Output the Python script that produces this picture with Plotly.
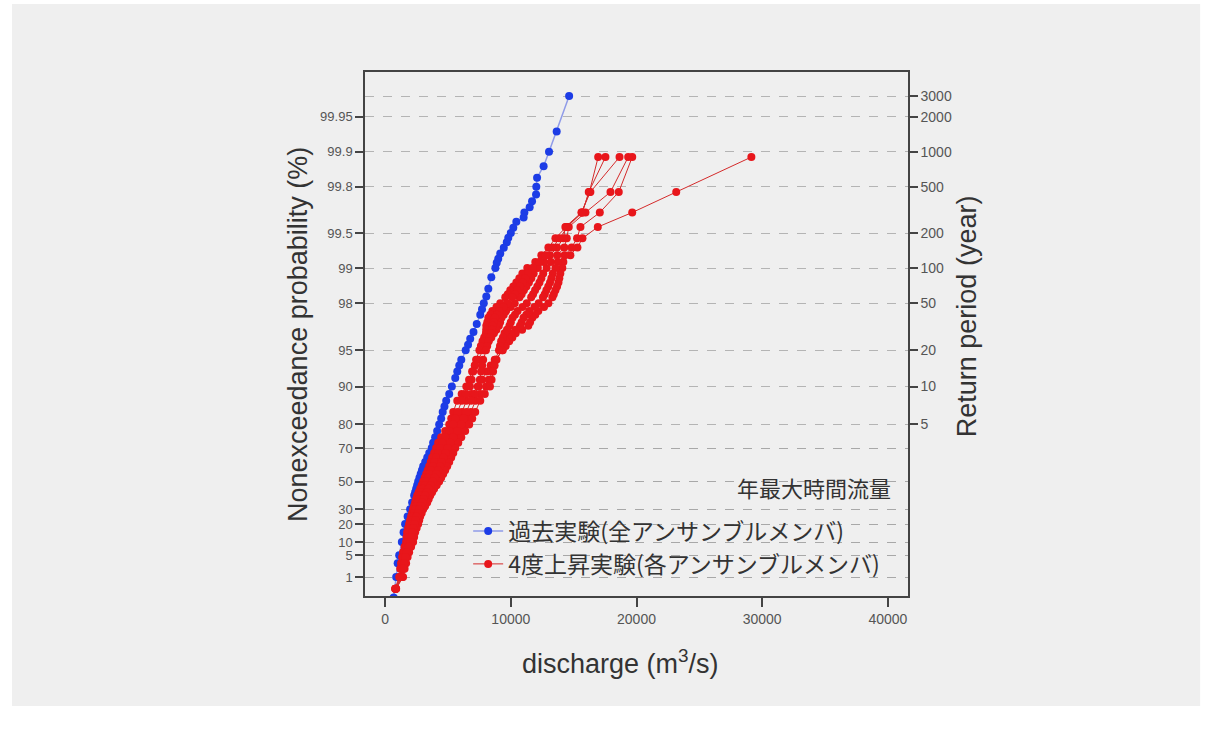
import numpy as np
import plotly.graph_objects as go

# ---------------- data ----------------
# Past experiment (all ensemble members): nonexceedance probability (%) and discharge (m3/s)
past_prob = [99.967, 99.933, 99.900, 99.867, 99.833, 99.800, 99.767, 99.733, 99.700, 99.667,
             99.633, 99.600, 99.55, 99.5, 99.45, 99.4, 99.33, 99.25, 99.17, 99.1,
             99.0, 98.8, 98.5, 98.25, 98.0, 97.75, 97.5, 97.0, 96.5, 96.0,
             95.5, 95.0, 94.0, 93.3, 92.5, 91.5, 90.0, 88.5, 87.0, 85.5,
             84.0, 82.0, 80.0, 77.5, 75.0, 72.5, 70.0, 67.5, 65.0, 62.5,
             60.0, 57.5, 55.0, 52.5, 50.0, 47.5, 45.0, 42.5, 40.0, 35.0,
             30.0, 25.0, 20.0, 15.0, 10.0, 5.0, 3.0, 1.0, 0.1]
past_q = [14640, 13650, 13040, 12610, 12090, 12030, 12010, 11690, 11500, 11080,
          11020, 10440, 10200, 10000, 9800, 9680, 9440, 9160, 9000, 8880,
          8770, 8450, 8210, 8050, 7850, 7710, 7570, 7290, 7030, 6770,
          6600, 6410, 6060, 5900, 5740, 5580, 5310, 5100, 4860, 4720,
          4580, 4460, 4300, 4140, 3980, 3820, 3710, 3510, 3350, 3190,
          3030, 2930, 2830, 2730, 2630, 2550, 2470, 2390, 2310, 2150,
          1990, 1790, 1590, 1470, 1330, 1120, 1000, 880, 680]

# +4K experiment (each ensemble member): shared probability levels (%)
fut_prob = [99.889, 99.778, 99.667, 99.556, 99.445, 99.334, 99.223, 99.112, 99.0, 98.89,
            98.78, 98.67, 98.56, 98.45, 98.33, 98.22, 98.0, 97.85, 97.67, 97.5,
            97.34, 97.1, 96.9, 96.65, 96.4, 96.1, 95.8, 95.4, 95.0, 94.0,
            93.3, 92.5, 91.2, 90.0, 88.5, 87.0, 84.0, 82.0, 80.0, 77.5,
            75.0, 72.5, 70.0, 67.5, 65.0, 62.5, 60.0, 57.5, 55.0, 52.5,
            50.0, 47.5, 45.0, 42.5, 40.0, 37.5, 35.0, 32.5, 30.0, 27.5,
            25.0, 22.5, 20.0, 17.5, 15.0, 12.5, 10.0, 8.0, 6.0, 4.5,
            3.0, 2.0, 1.0, 0.3]
fut_m1 = [29140, 23160, 19660, 16920, 15700, 15300, 14740, 14180, 14100, 13940,
          13860, 13790, 13680, 13550, 13420, 13310, 12990, 12640, 12190, 11950,
          11710, 11530, 11390, 10900, 10390, 10120, 9870, 9600, 9360, 8720,
          8400, 8080, 7720, 7370, 6880, 6470, 6120, 5930, 5740, 5420,
          5100, 4860, 4670, 4510, 4350, 4220, 4080, 3940, 3810, 3670,
          3540, 3390, 3230, 3100, 2960, 2870, 2770, 2660, 2550, 2450,
          2360, 2280, 2200, 2100, 2010, 1950, 1900, 1760, 1630, 1530,
          1430, 1340, 1240, 830]
fut_m2 = [19660, 18590, 17080, 15540, 15270, 14840, 14280, 13740, 13550, 13340,
          13230, 13120, 12980, 12830, 12700, 12560, 12220, 11880, 11460, 11230,
          11010, 10860, 10730, 10380, 10010, 9800, 9630, 9470, 9310, 8860,
          8670, 8480, 8250, 8030, 7590, 7200, 6820, 6600, 6370, 6060,
          5740, 5500, 5270, 5120, 4960, 4800, 4650, 4500, 4350, 4200,
          4050, 3860, 3680, 3530, 3380, 3270, 3160, 3010, 2870, 2760,
          2650, 2570, 2490, 2370, 2260, 2190, 2120, 1970, 1820, 1710,
          1590, 1480, 1370, 860]
fut_m3 = [19340, 17930, 15940, 14610, 14450, 14260, 13700, 13180, 12850, 12580,
          12430, 12280, 12110, 11930, 11770, 11620, 11270, 10930, 10540, 10330,
          10140, 10000, 9890, 9700, 9500, 9370, 9230, 9140, 9060, 8770,
          8710, 8590, 8470, 8340, 7930, 7570, 7170, 6930, 6690, 6370,
          6060, 5820, 5580, 5420, 5260, 5100, 4940, 4780, 4620, 4460,
          4300, 4100, 3900, 3740, 3590, 3470, 3350, 3190, 3030, 2910,
          2790, 2710, 2630, 2510, 2390, 2310, 2230, 2070, 1910, 1790,
          1670, 1550, 1430, 880]
fut_m4 = [18650, 16330, 15620, 14340, 14190, 13680, 13120, 12620, 12150, 11820,
          11630, 11440, 11240, 11040, 10860, 10690, 10310, 9990, 9630, 9440,
          9260, 9150, 9050, 8850, 8660, 8450, 8240, 8030, 7820, 7380,
          7150, 6920, 6680, 6460, 6090, 5740, 5420, 5260, 5100, 4780,
          4460, 4220, 4060, 3900, 3740, 3630, 3510, 3390, 3270, 3150,
          3030, 2910, 2790, 2670, 2550, 2470, 2390, 2310, 2230, 2150,
          2070, 1990, 1910, 1830, 1750, 1710, 1670, 1550, 1430, 1350,
          1270, 1200, 1120, 800]
fut_m5 = [17530, 16200, 15700, 14400, 13550, 12990, 12430, 11950, 11310, 10920,
          10680, 10440, 10200, 9960, 9760, 9560, 9160, 8860, 8530, 8370,
          8210, 8130, 8050, 8040, 8020, 7880, 7750, 7620, 7500, 7240,
          7130, 7010, 6880, 6750, 6420, 6100, 5770, 5590, 5420, 5100,
          4780, 4540, 4370, 4210, 4050, 3920, 3790, 3670, 3540, 3410,
          3280, 3150, 3010, 2880, 2760, 2670, 2580, 2490, 2390, 2300,
          2220, 2140, 2060, 1970, 1880, 1830, 1780, 1660, 1530, 1440,
          1350, 1270, 1180, 810]
fut_m6 = [16950, 16250, 15650, 14500, 13870, 13340, 12780, 12290, 11730, 11370,
          11150, 10940, 10720, 10500, 10310, 10120, 9740, 9420, 9080, 8900,
          8730, 8640, 8550, 8500, 8450, 8330, 8220, 8120, 8020, 7800,
          7720, 7630, 7540, 7450, 7130, 6840, 6470, 6260, 6060, 5740,
          5420, 5180, 4970, 4810, 4650, 4510, 4370, 4220, 4080, 3940,
          3790, 3630, 3460, 3310, 3170, 3070, 2960, 2840, 2710, 2610,
          2500, 2420, 2340, 2240, 2140, 2070, 2010, 1860, 1720, 1620,
          1510, 1410, 1310, 840]

left_ticks = [1, 5, 10, 20, 30, 50, 70, 80, 90, 95, 98, 99, 99.5, 99.8, 99.9, 99.95]
left_labels = ["1", "5", "10", "20", "30", "50", "70", "80", "90", "95", "98", "99",
               "99.5", "99.8", "99.9", "99.95"]
right_ticks = [5, 10, 20, 50, 100, 200, 500, 1000, 2000, 3000]
x_ticks = [0, 10000, 20000, 30000, 40000]

legend_past = "過去実験(全アンサンブルメンバ)"
legend_fut = "4度上昇実験(各アンサンブルメンバ)"
note_text = "年最大時間流量"


# Gumbel probability scale (reduced variate)
def gumbel(p_percent):
    return -np.log(-np.log(np.asarray(p_percent, dtype=float) / 100.0))


FONT = "Liberation Sans, Arial, Noto Sans CJK JP, sans-serif"
CJK = "Noto Sans CJK JP, Liberation Sans, sans-serif"
BLUE = "#1c3ce6"
BLUE_LINE = "#8f9be8"
RED = "#e8161b"
RED_LINE = "#d42a2a"
AXC = "#444444"
GRAY_BG = "#efefef"

fig = go.Figure()

fig.add_trace(go.Scatter(
    x=past_q, y=gumbel(past_prob), mode="lines+markers", name=legend_past,
    line=dict(color=BLUE_LINE, width=1.5),
    marker=dict(color=BLUE, size=8, line=dict(width=0)),
    legendgroup="past",
))

members = [fut_m1, fut_m2, fut_m3, fut_m4, fut_m5, fut_m6]
for i, m in enumerate(members):
    fig.add_trace(go.Scatter(
        x=m, y=gumbel(fut_prob), mode="lines+markers", name=legend_fut,
        line=dict(color=RED_LINE, width=1),
        marker=dict(color=RED, size=8, line=dict(width=0)),
        legendgroup="fut", showlegend=(i == 0),
    ))

# empty trace to activate the right-hand axis
fig.add_trace(go.Scatter(x=[None], y=[None], yaxis="y2", showlegend=False,
                         hoverinfo="skip"))

yr = [-1.904, 8.49]
tickfont = dict(family=FONT, size=14, color="#555555")
tickfont_left = dict(family=FONT, size=13, color="#555555")

fig.update_layout(
    width=1211, height=738,
    margin=dict(l=365, r=303, t=72, b=142),
    paper_bgcolor="white",
    plot_bgcolor="rgba(0,0,0,0)",
    font=dict(family=FONT, color="#333333"),
    showlegend=True,
    legend=dict(
        x=0.19, y=0.165, xanchor="left", yanchor="top",
        bgcolor="rgba(0,0,0,0)", borderwidth=0,
        font=dict(family=CJK, size=23, color="#333333"),
        tracegroupgap=0, itemwidth=30,
    ),
    xaxis=dict(
        range=[-1600, 41600], tickvals=x_ticks, ticktext=[str(v) for v in x_ticks],
        showgrid=False, zeroline=False, showline=True, linecolor=AXC, linewidth=1.5,
        mirror=True, ticks="outside", ticklen=9, tickwidth=1.5, tickcolor=AXC,
        tickfont=tickfont,
    ),
    yaxis=dict(
        range=yr, tickvals=list(gumbel(left_ticks)), ticktext=left_labels,
        showgrid=True, gridcolor="#a8a8a8", gridwidth=1, griddash="dash",
        zeroline=False, showline=True, linecolor=AXC, linewidth=1.5,
        ticks="outside", ticklen=8, tickwidth=1.5, tickcolor=AXC,
        tickfont=tickfont_left,
    ),
    yaxis2=dict(
        range=yr, overlaying="y", side="right",
        tickvals=list(gumbel([100 * (1 - 1 / t) for t in right_ticks])),
        ticktext=[str(t) for t in right_ticks],
        showgrid=True, gridcolor="#b4b4b4", gridwidth=1, griddash="dash",
        zeroline=False, showline=True, linecolor=AXC, linewidth=1.5,
        ticks="outside", ticklen=8, tickwidth=1.5, tickcolor=AXC,
        tickfont=tickfont,
    ),
)

# light gray panel behind the whole chart
fig.add_shape(type="rect", xref="paper", yref="paper",
              x0=-0.650, x1=1.538, y0=-0.210, y1=1.130,
              fillcolor=GRAY_BG, line=dict(width=0), layer="below")

title_font = dict(family=FONT, size=27, color="#333333")
fig.add_annotation(text="discharge (m<sup>3</sup>/s)", xref="paper", yref="paper",
                   x=0.47, y=-0.126, showarrow=False, font=title_font,
                   xanchor="center", yanchor="middle")
fig.add_annotation(text="Nonexceedance probability (%)", xref="paper", yref="paper",
                   x=-0.1234, y=0.5, showarrow=False, font=title_font, textangle=-90,
                   xanchor="center", yanchor="middle")
fig.add_annotation(text="Return period (year)", xref="paper", yref="paper",
                   x=1.1087, y=0.534, showarrow=False, font=title_font, textangle=-90,
                   xanchor="center", yanchor="middle")
fig.add_annotation(text=note_text, xref="paper", yref="paper",
                   x=0.972, y=0.208, showarrow=False, xanchor="right", yanchor="middle",
                   font=dict(family=CJK, size=22, color="#333333"))

fig.write_html("out.html")
